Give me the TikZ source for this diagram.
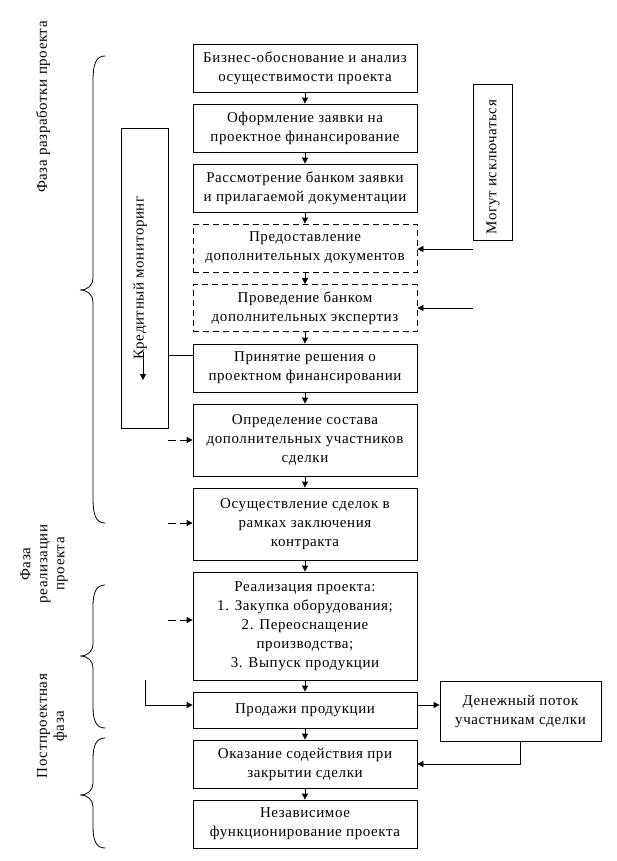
\documentclass[tikz,border=0pt]{standalone}
\usepackage{fontspec}
\setmainfont{Liberation Serif}[LetterSpace=4.0]
\usetikzlibrary{arrows.meta}
\begin{document}
\begin{tikzpicture}[x=1bp,y=-1bp,
  every node/.style={inner sep=0pt},
  txt/.style={font=\fontsize{15bp}{19bp}\selectfont, align=center},
  box/.style={draw, line width=0.8bp, minimum width=224bp, txt},
  dbox/.style={box, dash pattern=on 6bp off 4bp},
  plain/.style={draw, line width=0.8bp},
  arr/.style={line width=0.8bp, -{Triangle[length=6bp,width=6bp]}},
  darr/.style={arr, dash pattern=on 8bp off 4bp on 40bp off 0bp},
  brace/.style={line width=0.8bp},
  rot/.style={rotate=90, font=\fontsize{15bp}{17bp}\selectfont, align=center}]
\useasboundingbox (0,0) rectangle (617,861);
% main chain
\node[box, minimum height=48bp] (b1) at (305,68) {Бизнес-обоснование и анализ\\осуществимости проекта};
\node[box, minimum height=48bp] (b2) at (305,128) {Оформление заявки на\\проектное финансирование};
\node[box, minimum height=48bp] (b3) at (305,188) {Рассмотрение банком заявки\\и прилагаемой документации};
\node[dbox, minimum height=48bp] (b4) at (305,248) {Предоставление\\дополнительных документов};
\node[dbox, minimum height=47bp] (b5) at (305,308) {Проведение банком\\дополнительных экспертиз};
\node[box, minimum height=48bp] (b6) at (305,368) {Принятие решения о\\проектном финансировании};
\node[box, minimum height=72bp] (b7) at (305,440) {Определение состава\\дополнительных участников\\сделки};
\node[box, minimum height=72bp] (b8) at (305,524) {Осуществление сделок в\\рамках заключения\\контракта};
\node[box, minimum height=108bp] (b9) at (305,626) {Реализация проекта:\\1. Закупка оборудования;\\2. Переоснащение\\производства;\\3. Выпуск продукции};
\node[box, minimum height=36bp] (b10) at (305,710) {Продажи продукции};
\node[box, minimum height=48bp] (b11) at (305,764) {Оказание содействия при\\закрытии сделки};
\node[box, minimum height=48bp] (b12) at (305,824) {Независимое\\функционирование проекта};
\foreach \a/\b in {b1/b2,b2/b3,b3/b4,b4/b5,b5/b6,b6/b7,b7/b8,b8/b9,b9/b10,b10/b11,b11/b12}
  \draw[arr] (\a) -- (\b);
% side boxes
\node[plain, minimum width=47bp, minimum height=300bp] (km) at (144.5,278) {};
\node[rot] (kmt) at (140,278) {Кредитный мониторинг};
\node[plain, minimum width=39bp, minimum height=156bp] (mog) at (492.5,162) {};
\node[rot] (mogt) at (493,167) {Могут исключаться};
\node[box, minimum width=161bp, minimum height=60bp] (den) at (520.5,711) {Денежный поток\\участникам сделки};
% helper coordinates
\coordinate (y249) at (0,249);
\coordinate (y308) at (0,308);
\coordinate (y355) at (0,355);
\coordinate (y705) at (0,705);
\coordinate (y764) at (0,764);
\coordinate (kmA) at (143,352);
\coordinate (kmB) at (143,380);
\coordinate (d1) at (168,440);
\coordinate (d2) at (168,523);
\coordinate (d3) at (168,620);
\coordinate (s1) at (145,680);
% connectors
\draw[arr] (mog.west |- y249) -- (b4.east |- y249);
\draw[arr] (mog.west |- y308) -- (b5.east |- y308);
\draw[line width=0.8bp] (b6.west |- y355) -- (km.east |- y355);
\draw[arr] (kmA) -- (kmB);
\draw[darr] (d1) -- (b7.west |- d1);
\draw[darr] (d2) -- (b8.west |- d2);
\draw[darr] (d3) -- (b9.west |- d3);
\draw[arr] (s1) |- (b10.west |- y705);
\draw[arr] (b10.east |- y705) -- (den.west |- y705);
\draw[arr] (den.south) |- (b11.east |- y764);
% braces
\draw[brace] (105,56) .. controls (96,56) and (93,64) .. (93,81) -- (93,278) .. controls (93,285) and (88,290) .. (80,290) .. controls (88,290) and (93,295) .. (93,302) -- (93,498) .. controls (93,515) and (96,523) .. (105,523);
\draw[brace] (105,585) .. controls (96,585) and (93,593) .. (93,606) -- (93,644) .. controls (93,651) and (88,656) .. (80,656) .. controls (88,656) and (93,661) .. (93,668) -- (93,707) .. controls (93,720) and (96,728) .. (105,728);
\draw[brace] (105,738) .. controls (96,738) and (93,746) .. (93,759) -- (93,783) .. controls (93,790) and (88,795) .. (80,795) .. controls (88,795) and (93,800) .. (93,807) -- (93,827) .. controls (93,840) and (96,848) .. (105,848);
% phase labels
\node[rot] (p1) at (43,107) {Фаза разработки проекта};
\node[rot] (p2) at (44,564) {Фаза\\реализации\\проекта};
\node[rot] (p3) at (52,726) {Постпроектная\\фаза};
\end{tikzpicture}
\end{document}
